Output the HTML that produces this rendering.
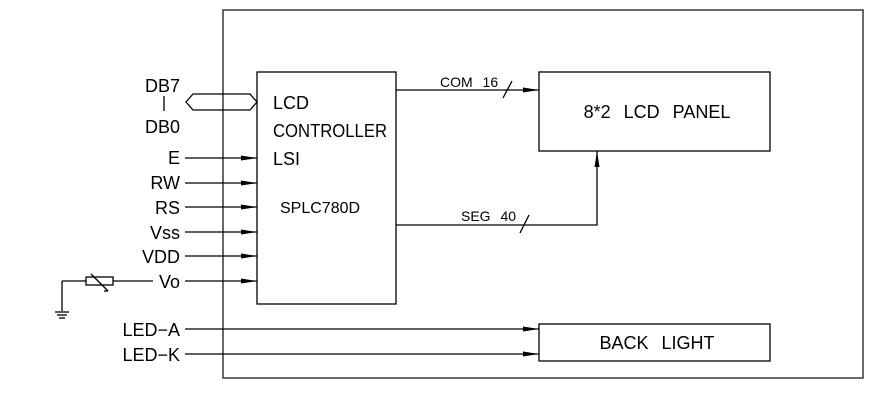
<!DOCTYPE html>
<html><head><style>body{margin:0;background:#fff}svg{display:block}</style></head><body>
<svg width="874" height="411" viewBox="0 0 874 411" xmlns="http://www.w3.org/2000/svg" font-family="Liberation Sans, sans-serif" fill="#000">
<defs><marker id="a" markerWidth="16" markerHeight="6" refX="16" refY="3" orient="auto" markerUnits="userSpaceOnUse"><path d="M0,0.5 L16,3 L0,5.5 Z"/></marker></defs>
<g fill="none" stroke="#000" stroke-width="1.3">
<rect x="223" y="10" width="640" height="368" stroke="#444" stroke-width="1.6"/>
<rect x="257" y="72" width="139" height="232"/>
<rect x="539" y="72" width="231" height="79"/>
<rect x="539" y="324" width="231" height="37"/>
<path d="M186,102 L193,94 L250,94 L257,102 L250,110 L193,110 Z"/>
<line x1="164" y1="96" x2="164" y2="111"/>
<line x1="185" y1="158" x2="257" y2="158" marker-end="url(#a)"/>
<line x1="185" y1="183" x2="257" y2="183" marker-end="url(#a)"/>
<line x1="185" y1="207" x2="257" y2="207" marker-end="url(#a)"/>
<line x1="185" y1="232" x2="257" y2="232" marker-end="url(#a)"/>
<line x1="185" y1="256" x2="257" y2="256" marker-end="url(#a)"/>
<line x1="185" y1="281" x2="257" y2="281" marker-end="url(#a)"/>
<line x1="185" y1="329" x2="539" y2="329" marker-end="url(#a)"/>
<line x1="185" y1="354" x2="539" y2="354" marker-end="url(#a)"/>
<line x1="396" y1="90" x2="539" y2="90" marker-end="url(#a)"/>
<line x1="503" y1="98" x2="512" y2="81"/>
<polyline points="396,225 597,225 597,151" marker-end="url(#a)"/>
<line x1="520" y1="233" x2="529" y2="215"/>
<line x1="62" y1="281" x2="86" y2="281"/>
<rect x="86" y="277" width="27" height="8"/>
<line x1="113" y1="281" x2="153" y2="281"/>
<line x1="91" y1="274" x2="108" y2="291"/><line x1="108" y1="291" x2="104" y2="291"/>
<line x1="62" y1="281" x2="62" y2="311"/>
<line x1="55" y1="312" x2="69" y2="312"/><line x1="57" y1="315" x2="67" y2="315"/><line x1="59" y1="318" x2="65" y2="318"/>
</g>
<g font-size="18" text-anchor="end">
<text x="180" y="92">DB7</text><text x="180" y="133">DB0</text>
<text x="180" y="164">E</text><text x="180" y="189">RW</text><text x="180" y="214">RS</text>
<text x="180" y="239">Vss</text><text x="180" y="263">VDD</text><text x="180" y="288">Vo</text>
<text x="180" y="336">LED−A</text><text x="180" y="361">LED−K</text>
</g>
<g font-size="18"><text x="273" y="109">LCD</text><text x="273" y="137" textLength="114" lengthAdjust="spacingAndGlyphs">CONTROLLER</text><text x="273" y="165">LSI</text></g>
<text x="280" y="213" font-size="16">SPLC780D</text>
<text x="440" y="87" font-size="14" word-spacing="6">COM 16</text>
<text x="461" y="221" font-size="14" word-spacing="6">SEG 40</text>
<text x="657" y="118" font-size="18" text-anchor="middle" word-spacing="8">8*2 LCD PANEL</text>
<text x="657" y="349" font-size="18" text-anchor="middle" word-spacing="8">BACK LIGHT</text>
</svg>
</body></html>
